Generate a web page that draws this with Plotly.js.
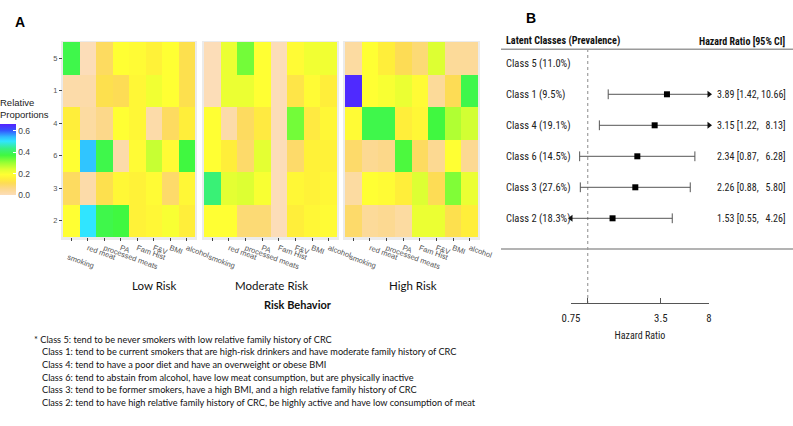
<!DOCTYPE html>
<html><head><meta charset="utf-8">
<script src="https://cdn.plot.ly/plotly-3.0.1.min.js"></script>
<style>html,body{margin:0;padding:0;background:#fff}#chart{width:793px;height:426px}</style>
</head><body><div id="chart"></div>
<script>
// ---------- data ----------
const behaviors = ['smoking','red meat','processed meats','PA','Fam Hist','F&V','BMI','alcohol'];
const classRows = ['5','1','4','6','3','2'];
const riskLevels = ['Low Risk','Moderate Risk','High Risk'];
const lowRisk = [
 [0.38,0.00,0.10,0.19,0.18,0.16,0.19,0.12],
 [0.02,0.02,0.12,0.11,0.17,0.21,0.19,0.12],
 [0.15,0.03,0.06,0.19,0.17,0.02,0.10,0.15],
 [0.19,0.53,0.38,0.02,0.18,0.26,0.18,0.37],
 [0.10,0.02,0.12,0.17,0.16,0.18,0.09,0.17],
 [0.19,0.50,0.38,0.37,0.16,0.17,0.20,0.15]
];
const moderateRisk = [
 [0.00,0.22,0.33,0.19,0.00,0.18,0.21,0.21],
 [0.00,0.22,0.22,0.19,0.00,0.13,0.18,0.15],
 [0.19,0.02,0.10,0.14,0.00,0.33,0.14,0.17],
 [0.19,0.15,0.09,0.23,0.00,0.09,0.16,0.16],
 [0.42,0.23,0.24,0.20,0.00,0.17,0.16,0.17],
 [0.19,0.19,0.08,0.08,0.00,0.15,0.17,0.18]
];
const highRisk = [
 [0.03,0.19,0.15,0.11,0.08,0.24,0.04,0.04],
 [0.65,0.19,0.20,0.22,0.18,0.04,0.11,0.38],
 [0.18,0.38,0.38,0.15,0.17,0.37,0.28,0.25],
 [0.09,0.05,0.06,0.36,0.10,0.05,0.19,0.05],
 [0.03,0.19,0.18,0.15,0.24,0.11,0.32,0.22],
 [0.09,0.04,0.05,0.03,0.22,0.22,0.12,0.15]
];
const colorTicks = [0, 0.2, 0.4, 0.6];

const forestClasses = ['Class 5','Class 1','Class 4','Class 6','Class 3','Class 2'];
const prevalence = [11.0, 9.5, 19.1, 14.5, 27.6, 18.3];
const hazardRatio = [null, 3.89, 3.15, 2.34, 2.26, 1.53];
const ciLower = [null, 1.42, 1.22, 0.87, 0.88, 0.55];
const ciUpper = [null, 10.66, 8.13, 6.28, 5.80, 4.26];
const hrTicks = [0.75, 1, 3.5, 8];
const hrTickText = ['0.75', '', '3.5', '8'];

const footnotes = [
 '* Class 5: tend to be never smokers with low relative family history of CRC',
 'Class 1: tend to be current smokers that are high-risk drinkers and have moderate family history of CRC',
 'Class 4: tend to have a poor diet and have an overweight or obese BMI',
 'Class 6: tend to abstain from alcohol, have low meat consumption, but are physically inactive',
 'Class 3: tend to be former smokers, have a high BMI, and a high relative family history of CRC',
 'Class 2: tend to have high relative family history of CRC, be highly active and have low consumption of meat'
];

// ---------- helpers ----------
const W = 793, H = 426;
const px = x => x / W;
const py = y => 1 - y / H;

const cmax = 0.66;
const colorscale = [
 [0.000,'#FCDDB8'],[0.091,'#FCD88A'],[0.167,'#FDDC55'],[0.227,'#FFEE3A'],
 [0.288,'#FFFF33'],[0.364,'#DDFF33'],[0.455,'#99FF33'],[0.560,'#40F840'],
 [0.650,'#38F080'],[0.758,'#30E5FF'],[0.818,'#30BBFF'],[0.909,'#3355FF'],[1.000,'#5522FF']
];

const panels = [lowRisk, moderateRisk, highRisk];
const panelPx = [[63,195],[204,337],[345,478]];
const heatTop = 42, heatBottom = 237;
const tickLabels = behaviors.map((b,i) => i === 0 ? '<br>' + b : b);

const traces = [];
panels.forEach((z, k) => {
  traces.push({
    type: 'heatmap', z: z, x: behaviors, y: classRows,
    xaxis: k === 0 ? 'x' : 'x' + (k + 1), yaxis: 'y',
    coloraxis: 'coloraxis', xgap: 0, ygap: 0, hoverinfo: 'skip'
  });
});

// forest plot
const xMin = hrTicks[0], xMax = hrTicks[hrTicks.length - 1];
const rowIdx = forestClasses.map((c, i) => i);
const yTopVal = -0.461, yBotVal = 7.732;
const ciX = [], ciY = [], capX = [], capY = [], arrX = [], arrY = [], arrSym = [];
rowIdx.forEach(i => {
  if (hazardRatio[i] == null) return;
  const lo = Math.max(ciLower[i], xMin), hi = Math.min(ciUpper[i], xMax);
  ciX.push(lo, hi, null); ciY.push(i, i, null);
  if (ciLower[i] < xMin) { arrX.push(lo); arrY.push(i); arrSym.push('triangle-left'); }
  else { capX.push(lo); capY.push(i); }
  if (ciUpper[i] > xMax) { arrX.push(hi); arrY.push(i); arrSym.push('triangle-right'); }
  else { capX.push(hi); capY.push(i); }
});
traces.push({type:'scatter', mode:'lines', x:[1,1], y:[yTopVal, yBotVal], xaxis:'x4', yaxis:'y4',
  line:{color:'#8a8a8a', width:1, dash:'dot'}, hoverinfo:'skip', showlegend:false});
traces.push({type:'scatter', mode:'lines', x:ciX, y:ciY, xaxis:'x4', yaxis:'y4',
  line:{color:'#555', width:1}, hoverinfo:'skip', showlegend:false});
traces.push({type:'scatter', mode:'markers', x:capX, y:capY, xaxis:'x4', yaxis:'y4', cliponaxis:false,
  marker:{symbol:'line-ns', size:7, line:{color:'#555', width:1}}, hoverinfo:'skip', showlegend:false});
traces.push({type:'scatter', mode:'markers', x:arrX, y:arrY, xaxis:'x4', yaxis:'y4', cliponaxis:false,
  marker:{symbol:arrSym, size:6, color:'#111'}, hoverinfo:'skip', showlegend:false});
traces.push({type:'scatter', mode:'markers', x:hazardRatio, y:rowIdx, xaxis:'x4', yaxis:'y4', cliponaxis:false,
  marker:{symbol:'square', size:6, color:'#000'}, hoverinfo:'skip', showlegend:false});

const forestFont = '"Roboto Condensed", Roboto, sans-serif';
const calFont = 'Lato, "Open Sans", sans-serif';

const annotations = [];
annotations.push({text:'<b>A</b>', x:px(13), y:py(12), xref:'paper', yref:'paper', showarrow:false,
  font:{family:'Liberation Sans, Arial', size:14, color:'#000'}});
annotations.push({text:'<b>B</b>', x:px(538), y:py(8), xref:'paper', yref:'paper', showarrow:false,
  font:{family:'Liberation Sans, Arial', size:14, color:'#000'}});
riskLevels.forEach((r, k) => {
  annotations.push({text:r, x:px((panelPx[k][0]+panelPx[k][1])/2 + 1), y:py(294), xref:'paper', yref:'paper',
    showarrow:false, font:{family:calFont, size:11.5, color:'#111'}});
});
annotations.push({text:'<b>Risk Behavior</b>', x:px(262), y:py(313), xref:'paper', yref:'paper',
  showarrow:false, font:{family:calFont, size:11, color:'#111'}});
footnotes.forEach((t, i) => {
  annotations.push({text:t, x:px(i === 0 ? 32 : 40), y:py(346.7 + i*12.66), xref:'paper', yref:'paper',
    xanchor:'left', showarrow:false, font:{family:calFont, size:9.2, color:'#111'}});
});
annotations.push({text:'<b>Latent Classes (Prevalence)</b>', x:px(504), y:py(33), xref:'paper', yref:'paper',
  xanchor:'left', showarrow:false, font:{family:forestFont, size:10.2, color:'#111'}});
annotations.push({text:'<b>Hazard Ratio [95% CI]</b>', x:px(788), y:py(33), xref:'paper', yref:'paper',
  xanchor:'right', showarrow:false, font:{family:forestFont, size:10, color:'#111'}});
const nb = '\u00A0';
rowIdx.forEach(i => {
  annotations.push({text: forestClasses[i] + ' (' + prevalence[i].toFixed(1) + '%)', x:px(504), y:i,
    xref:'paper', yref:'y4', xanchor:'left', showarrow:false, font:{family:forestFont, size:10.5, color:'#222'}});
  if (hazardRatio[i] != null) {
    const up = ciUpper[i].toFixed(2);
    const t = hazardRatio[i].toFixed(2) + ' [' + ciLower[i].toFixed(2) + ',' + nb + (up.length < 5 ? nb + nb : '') + up + ']';
    annotations.push({text:t, x:px(788), y:i, xref:'paper', yref:'y4', xanchor:'right', showarrow:false,
      font:{family:forestFont, size:10, color:'#222'}});
  }
});

const shapes = [];
// panel backgrounds
panelPx.forEach(p => {
  shapes.push({type:'rect', xref:'paper', yref:'paper', x0:px(p[0]-2), x1:px(p[1]+2), y0:py(heatBottom+3), y1:py(heatTop-1),
    fillcolor:'#EBEBEB', line:{width:0}, layer:'below'});
});
shapes.push({type:'line', xref:'paper', yref:'paper', x0:px(501), x1:1, y0:py(49.3), y1:py(49.3), line:{color:'#9a9a9a', width:1.5}});
shapes.push({type:'line', xref:'paper', yref:'paper', x0:px(501), x1:1, y0:py(249), y1:py(249), line:{color:'#9a9a9a', width:1.5}});

const heatX = k => ({
  type:'category', domain:[px(panelPx[k][0]), px(panelPx[k][1])], anchor:'y',
  categoryorder:'array', categoryarray:behaviors, tickvals:behaviors, ticktext:tickLabels,
  tickangle:20, tickfont:{family:'Liberation Sans, Arial', size:7.5, color:'#555'},
  ticks:'outside', ticklen:3, tickcolor:'#444', showgrid:false, zeroline:false, showline:false
});

const layout = {
  width: W, height: H, margin:{l:0, r:0, t:0, b:0},
  paper_bgcolor:'#fff', plot_bgcolor:'rgba(0,0,0,0)', showlegend:false,
  font:{family:'Liberation Sans, Arial', color:'#222'},
  coloraxis:{colorscale:colorscale, cmin:0, cmax:cmax,
    colorbar:{x:0, xanchor:'left', xpad:0, ypad:0, y:py(145.5), yanchor:'middle',
      thickness:16, thicknessmode:'pixels', len:99, lenmode:'pixels', outlinewidth:0,
      tickvals:colorTicks, ticktext:colorTicks.map(v => v.toFixed(1)),
      ticks:'inside', ticklen:3, tickcolor:'#fff',
      tickfont:{size:8.5, color:'#444'},
      title:{text:'Relative<br>Proportions', side:'top', font:{size:9.5, color:'#222'}}}},
  xaxis: heatX(0), xaxis2: heatX(1), xaxis3: heatX(2),
  yaxis:{type:'category', domain:[py(heatBottom), py(heatTop)], anchor:'x',
    categoryorder:'array', categoryarray:classRows, autorange:'reversed',
    tickfont:{family:'Liberation Sans, Arial', size:7.5, color:'#555'},
    ticks:'outside', ticklen:3, tickcolor:'#444', showgrid:false, zeroline:false, showline:false},
  xaxis4:{type:'log', domain:[px(571), px(709)], anchor:'y4', range:[Math.log10(xMin), Math.log10(xMax)],
    tickvals:hrTicks, ticktext:hrTickText, ticks:'inside', ticklen:5, tickcolor:'#555',
    showline:true, linecolor:'#555', linewidth:1, showgrid:false, zeroline:false,
    ticklabelstandoff:5,
    tickfont:{family:forestFont, size:10.8, color:'#222'},
    title:{text:'Hazard Ratio', font:{family:forestFont, size:10, color:'#222'}, standoff:8}},
  yaxis4:{domain:[py(303), py(49)], anchor:'x4', range:[yBotVal, yTopVal], visible:false},
  annotations: annotations, shapes: shapes
};

Plotly.newPlot('chart', traces, layout, {staticPlot:true, displayModeBar:false});
</script></body></html>
